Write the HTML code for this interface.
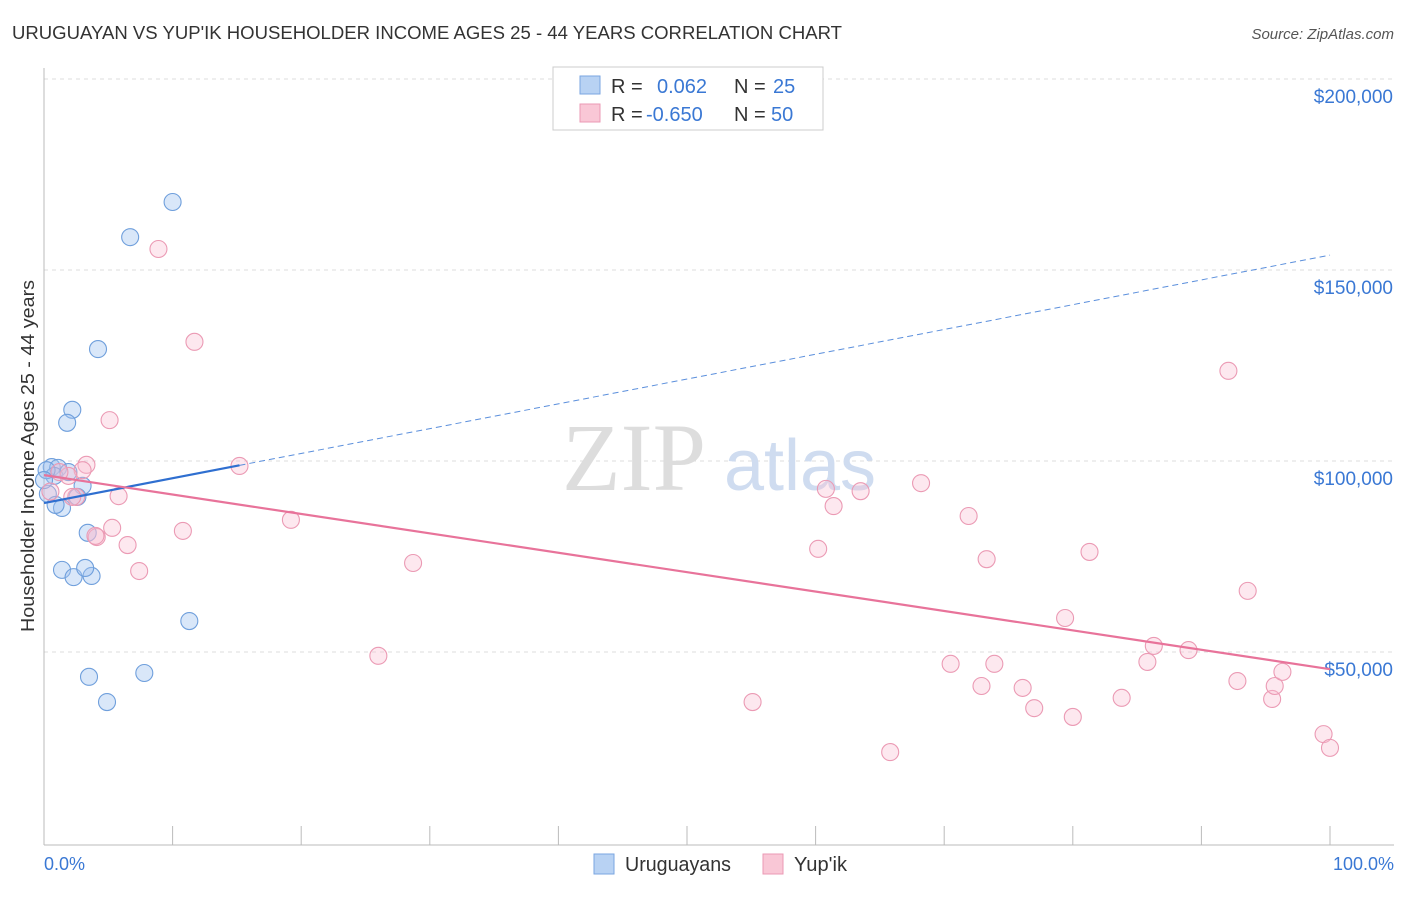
<!DOCTYPE html>
<html><head><meta charset="utf-8"><style>
body{margin:0;background:#fff;font-family:"Liberation Sans",sans-serif;}
</style></head><body>
<svg width="1406" height="892" xmlns="http://www.w3.org/2000/svg">
<text x="12" y="39" font-size="18" fill="#333" textLength="830" lengthAdjust="spacingAndGlyphs">URUGUAYAN VS YUP'IK HOUSEHOLDER INCOME AGES 25 - 44 YEARS CORRELATION CHART</text>
<text x="1394" y="39" font-size="15" fill="#555" font-style="italic" text-anchor="end">Source: ZipAtlas.com</text>
<g id="grid"></g>
<g><text x="634" y="490" font-size="96" fill="#ddd" font-family="Liberation Serif" text-anchor="middle">ZIP</text><text x="800" y="490" font-size="72" fill="#cfdcf0" text-anchor="middle">atlas</text></g>
<text transform="translate(34,456) rotate(-90)" font-size="18" fill="#333" text-anchor="middle" textLength="352" lengthAdjust="spacingAndGlyphs">Householder Income Ages 25 - 44 years</text>
<g id="pts"></g>
<g id="trend"></g>
<g>
<rect x="553" y="67" width="270" height="63" fill="#fff" stroke="#ccc"/>
<rect x="580" y="76" width="20" height="18" fill="#b8d2f3" stroke="#7aa6e0"/>
<rect x="580" y="104" width="20" height="18" fill="#f9c7d6" stroke="#eb9ab4"/>
<text y="93" font-size="20" fill="#333"><tspan x="611">R =</tspan><tspan x="657" fill="#3a78d4">0.062</tspan><tspan x="734">N =</tspan><tspan x="773" fill="#3a78d4">25</tspan></text>
<text y="121" font-size="20" fill="#333"><tspan x="611">R =</tspan><tspan x="646" fill="#3a78d4">-0.650</tspan><tspan x="734">N =</tspan><tspan x="771" fill="#3a78d4">50</tspan></text>
</g>
<g>
<rect x="594" y="854" width="20" height="20" fill="#b8d2f3" stroke="#7aa6e0"/>
<text x="625" y="871" font-size="20" fill="#333" textLength="106" lengthAdjust="spacingAndGlyphs">Uruguayans</text>
<rect x="763" y="854" width="20" height="20" fill="#f9c7d6" stroke="#eb9ab4"/>
<text x="794" y="871" font-size="20" fill="#333" textLength="53" lengthAdjust="spacingAndGlyphs">Yup'ik</text>
</g>
<text x="44" y="870" font-size="18" fill="#3a78d4">0.0%</text>
<text x="1394" y="870" font-size="18" fill="#3a78d4" text-anchor="end">100.0%</text>
</svg>
<script>
const yTicks=[50000,100000,150000,200000];
const yTickLabels=["$50,000","$100,000","$150,000","$200,000"];
const uruX=[10.0,6.7,4.2,2.2,1.8,0.6,1.1,0.8,0.2,1.9,3.0,2.6,0.3,1.4,3.4,1.4,2.3,3.7,3.2,11.3,3.5,7.8,4.9,0.9,0];
const uruY=[167.8,158.6,129.3,113.4,110.0,98.4,98.2,96.1,97.6,97.1,93.5,90.6,91.4,87.7,81.2,71.5,69.6,69.9,72.0,58.1,43.5,44.5,36.9,88.5,95.0];
const yupX=[8.9,11.7,5.1,15.2,3.3,3.0,1.9,5.8,2.5,19.2,5.3,10.8,4.1,6.5,7.4,28.7,26.0,55.1,60.2,60.8,61.4,63.5,68.2,70.5,71.9,72.9,73.3,73.9,65.8,76.1,77.0,79.4,80.0,81.3,83.8,85.8,86.3,89.0,92.1,92.8,93.6,95.5,95.7,96.3,99.5,100,1.2,2.2,4.0,0.5];
const yupY=[155.5,131.2,110.7,98.7,99.0,97.6,96.1,90.8,90.6,84.6,82.5,81.7,80.1,78.0,71.2,73.3,49.0,36.9,77.0,92.7,88.2,92.1,94.2,46.9,85.6,41.1,74.3,46.9,23.8,40.6,35.3,58.9,33.0,76.2,38.0,47.4,51.6,50.5,123.6,42.4,66.0,37.7,41.1,44.8,28.5,24.9,97.1,90.6,80.4,92.0];
const uruTrend=[89.0,153.9];
const yupTrend=[96.3,45.5];
const NS="http://www.w3.org/2000/svg";
const xs=p=>44+p*12.86;
const ys=v=>652-(v*1000-50000)*191/50000;
function mk(t,a,parent){const e=document.createElementNS(NS,t);for(const k in a)e.setAttribute(k,a[k]);document.getElementById(parent).appendChild(e);return e;}
yTicks.forEach((v,i)=>{
 const l=mk('line',{x1:44,x2:1394,y1:ys(v/1000),y2:ys(v/1000),stroke:'#ddd','stroke-dasharray':'4,4'},'grid');
 
 
 const t=mk('text',{x:1393,y:ys(v/1000)+24,'font-size':19,fill:'#3a78d4','text-anchor':'end'},'grid');
 t.textContent=yTickLabels[i];
 
 
});
const ax=mk('line',{x1:44,x2:1394,y1:845,y2:845,stroke:'#bbb'},'grid');


const ay=mk('line',{x1:44,x2:44,y1:68,y2:845,stroke:'#bbb'},'grid');


for(let i=0;i<=10;i++){const t=mk('line',{x1:xs(i*10),x2:xs(i*10),y1:826,y2:845,stroke:'#bbb'},'grid');
 
 }
uruX.forEach((x,i)=>{const c=mk('circle',{cx:xs(x),cy:ys(uruY[i]),r:8.5,fill:'rgba(160,196,240,0.4)',stroke:'#6f9fdc','stroke-width':1.1},'pts');
 
 });
yupX.forEach((x,i)=>{const c=mk('circle',{cx:xs(x),cy:ys(yupY[i]),r:8.5,fill:'rgba(248,190,210,0.35)',stroke:'#eb9ab4','stroke-width':1.1},'pts');
 
 });
const bv=p=>uruTrend[0]+(uruTrend[1]-uruTrend[0])*p/100;
const t1=mk('line',{x1:xs(0),y1:ys(bv(0)),x2:xs(15.2),y2:ys(bv(15.2)),stroke:'#2f6fd0','stroke-width':2.2},'trend');


const t2=mk('line',{x1:xs(15.2),y1:ys(bv(15.2)),x2:xs(100),y2:ys(bv(100)),stroke:'#5b8fdc','stroke-width':1,'stroke-dasharray':'6,4'},'trend');


const t3=mk('line',{x1:xs(0),y1:ys(yupTrend[0]),x2:xs(100),y2:ys(yupTrend[1]),stroke:'#e8739a','stroke-width':2.2},'trend');


</script>
</body></html>
